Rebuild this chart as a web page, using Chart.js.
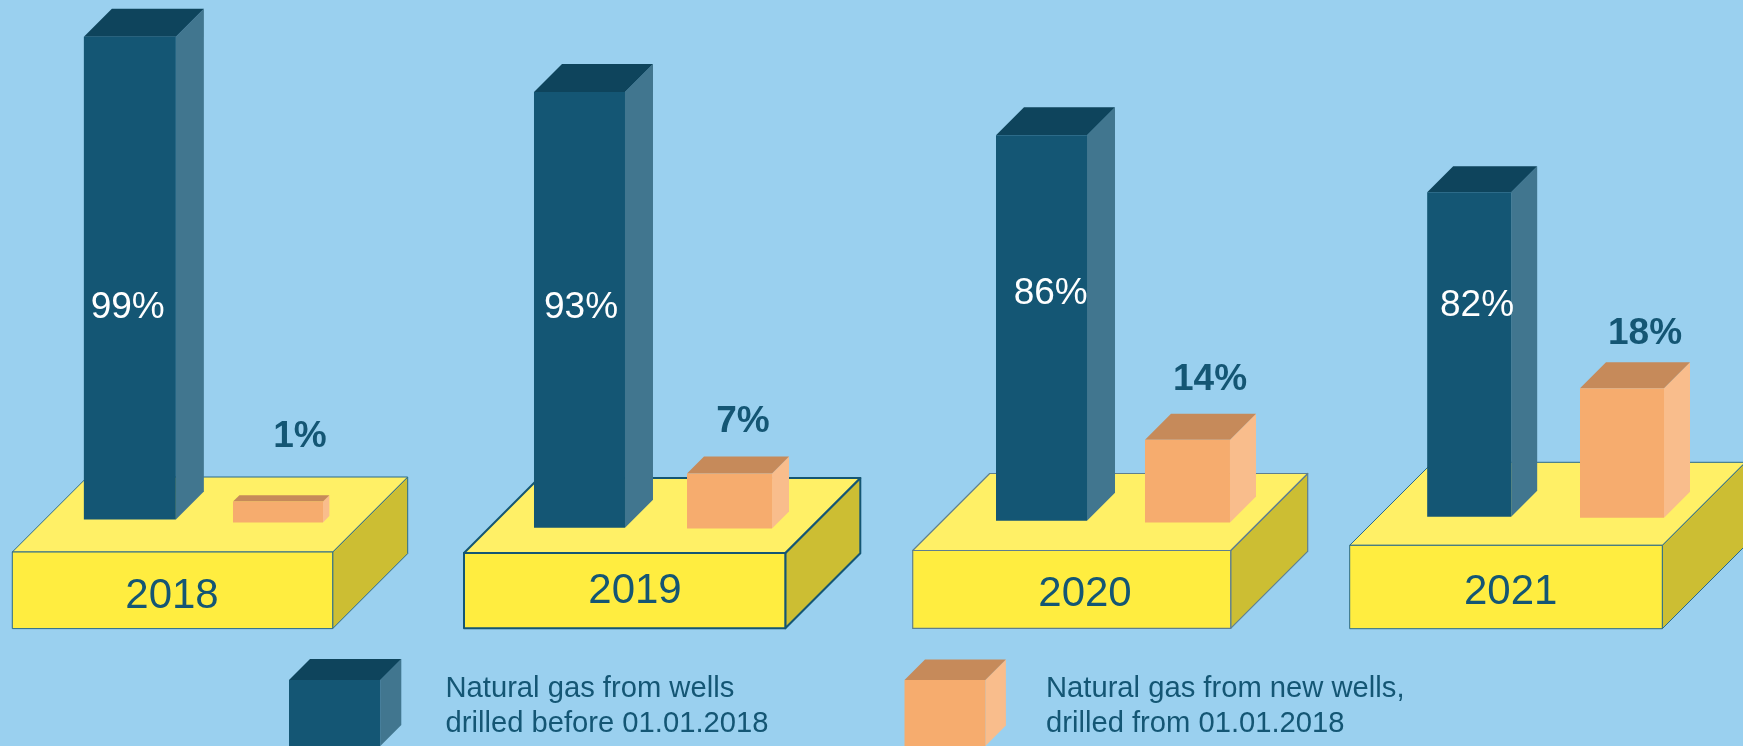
<!DOCTYPE html>
<html>
<head>
<meta charset="utf-8">
<title>Natural gas from old and new wells</title>
<script src="https://cdn.jsdelivr.net/npm/chart.js@4"></script>
<style>
  html, body { margin: 0; padding: 0; background: #9ad0ef; overflow: hidden; }
  canvas { display: block; }
</style>
</head>
<body>
<canvas id="chart" width="1743" height="746"></canvas>
<script>
const years = ['2018', '2019', '2020', '2021'];
const oldWellShares = [99, 93, 86, 82];
const newWellShares = [1, 7, 14, 18];

// the source does not draw bars to scale, so the drawn extent is read off separately
const oldWellBottoms = [0.08, -1.6, -0.14, 0.68];
const oldWellTops = [99.08, 87.72, 78.88, 67.18];
const newWellBottoms = [-0.49, -1.76, -0.51, 0.47];
const newWellTops = [3.77, 9.51, 16.46, 27.0];

const legendLabels = [
  ['Natural gas from wells', 'drilled before 01.01.2018'],
  ['Natural gas from new wells,', 'drilled from 01.01.2018']
];

// layout only, from here on
const oldWellSlots = [0, 0.9992, 2.0259, 2.9763];
const newWellSlots = [0.3292, 1.3326, 2.3503, 3.3159];
const oldWellWidths = [92, 91, 91, 84];
const newWellWidths = [90, 85, 85, 84];
const oldWellDepths = [28, 28, 28, 26];
const newWellDepths = [6.4, 17, 26, 26];

const platforms = [
  { left: 12.3, right: 332.7, top: 552, bottom: 628.6, depth: 75, line: '#2a6a8a', lineWidth: 1 },
  { left: 464, right: 785.3, top: 553, bottom: 628.2, depth: 75, line: '#145674', lineWidth: 2 },
  { left: 912.7, right: 1230.7, top: 550.5, bottom: 628.4, depth: 77, line: '#5f7f8f', lineWidth: 1.2 },
  { left: 1349.7, right: 1662.3, top: 545.3, bottom: 628.7, depth: 83, line: '#2a6a8a', lineWidth: 1 }
];
const yearLabelPos = [[172, 608], [635, 603], [1085, 606], [1510.7, 604]];
const oldLabelPos = [[127.7, 318], [581, 318], [1050.7, 304], [1477, 316]];
const newLabelPos = [[300, 447], [743, 432], [1210, 390], [1645, 344]];

const BLUE = { front: '#145674', side: '#41768f', top: '#0e445c' };
const ORANGE = { front: '#f6ac6e', side: '#f9bd8c', top: '#c68a5a' };
const YELLOW = { front: '#ffed40', side: '#ccbe33', top: '#fff066' };
const TEXT_COLOR = '#145674';
const FONT = '"Liberation Sans", Arial, sans-serif';

function polygon(ctx, points, fill, line, lineWidth) {
  ctx.beginPath();
  points.forEach((p, i) => (i ? ctx.lineTo(p[0], p[1]) : ctx.moveTo(p[0], p[1])));
  ctx.closePath();
  ctx.fillStyle = fill;
  ctx.fill();
  if (line) {
    ctx.strokeStyle = line;
    ctx.lineWidth = lineWidth;
    ctx.stroke();
  }
}

function sideAndTop(ctx, l, r, t, b, d, colors, line, lineWidth) {
  polygon(ctx, [[r, t], [r + d, t - d], [r + d, b - d], [r, b]], colors.side, line, lineWidth);
  polygon(ctx, [[l, t], [l + d, t - d], [r + d, t - d], [r, t]], colors.top, line, lineWidth);
}

function drawText(ctx, text, x, y, font, color, align) {
  ctx.font = font;
  ctx.fillStyle = color;
  ctx.textAlign = align || 'center';
  ctx.textBaseline = 'alphabetic';
  ctx.fillText(text, x, y);
}

const datasets = [];
years.forEach((year, i) => {
  datasets.push({
    label: 'Natural gas from wells drilled before 01.01.2018, ' + year,
    data: [{ x: oldWellSlots[i], y: [oldWellBottoms[i], oldWellTops[i]] }],
    backgroundColor: BLUE.front,
    maxBarThickness: oldWellWidths[i],
    depth: oldWellDepths[i],
    faces: BLUE
  });
});
years.forEach((year, i) => {
  datasets.push({
    label: 'Natural gas from new wells, drilled from 01.01.2018, ' + year,
    data: [{ x: newWellSlots[i], y: [newWellBottoms[i], newWellTops[i]] }],
    backgroundColor: ORANGE.front,
    maxBarThickness: newWellWidths[i],
    depth: newWellDepths[i],
    faces: ORANGE
  });
});

const scene = {
  id: 'scene',
  beforeDatasetsDraw(chart) {
    const ctx = chart.ctx;
    ctx.save();
    ctx.lineJoin = 'round';
    platforms.forEach((p, i) => {
      sideAndTop(ctx, p.left, p.right, p.top, p.bottom, p.depth, YELLOW, p.line, p.lineWidth);
      polygon(ctx, [[p.left, p.top], [p.right, p.top], [p.right, p.bottom], [p.left, p.bottom]], YELLOW.front, p.line, p.lineWidth);
    });
    // side and top faces hang off the bars the library has just placed
    chart.data.datasets.forEach((ds, i) => {
      const bar = chart.getDatasetMeta(i).data[0];
      sideAndTop(ctx, bar.x - bar.width / 2, bar.x + bar.width / 2, bar.y, bar.base, ds.depth, ds.faces);
    });
    ctx.restore();
  },
  afterDatasetsDraw(chart) {
    const ctx = chart.ctx;
    ctx.save();
    years.forEach((year, i) => {
      drawText(ctx, year, yearLabelPos[i][0], yearLabelPos[i][1], '42px ' + FONT, TEXT_COLOR);
      drawText(ctx, oldWellShares[i] + '%', oldLabelPos[i][0], oldLabelPos[i][1], '37px ' + FONT, '#ffffff');
      drawText(ctx, newWellShares[i] + '%', newLabelPos[i][0], newLabelPos[i][1], 'bold 37px ' + FONT, TEXT_COLOR);
    });

    // legend cubes run off the bottom of the page, as in the source
    sideAndTop(ctx, 289, 380.3, 680, 746, 21, BLUE);
    polygon(ctx, [[289, 680], [380.3, 680], [380.3, 746], [289, 746]], BLUE.front);
    sideAndTop(ctx, 904.5, 985.4, 680, 746, 20.5, ORANGE);
    polygon(ctx, [[904.5, 680], [985.4, 680], [985.4, 746], [904.5, 746]], ORANGE.front);
    legendLabels[0].forEach((line, i) => drawText(ctx, line, 445.5, 696.7 + i * 35, '29.2px ' + FONT, TEXT_COLOR, 'left'));
    legendLabels[1].forEach((line, i) => drawText(ctx, line, 1046, 696.7 + i * 35, '29.2px ' + FONT, TEXT_COLOR, 'left'));
    ctx.restore();
  }
};

new Chart(document.getElementById('chart'), {
  type: 'bar',
  data: { datasets: datasets },
  options: {
    responsive: false,
    animation: false,
    events: [],
    grouped: false,
    barPercentage: 1,
    layout: { padding: 0 },
    plugins: { legend: { display: false }, tooltip: { enabled: false } },
    scales: {
      x: { type: 'linear', display: false, offset: false, min: -0.28856, max: 3.58478 },
      y: { type: 'linear', display: false, min: -46.33, max: 106.6 }
    }
  },
  plugins: [scene]
});
</script>
</body>
</html>
